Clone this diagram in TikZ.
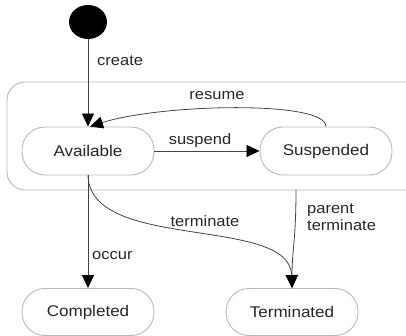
\documentclass[tikz,border=0pt]{standalone}
\usepackage{fontspec}
\setmainfont[FakeStretch=1.1]{Liberation Sans}
\usetikzlibrary{arrows.meta,shapes.geometric}
\definecolor{edgec}{HTML}{444444}
\definecolor{boxc}{HTML}{B8B8B8}
\tikzset{
  state/.style={draw=boxc, line width=0.9pt, rounded corners=23pt, minimum width=132pt, minimum height=48pt, inner sep=0pt, font=\fontsize{15.5}{18}\selectfont, text=black!85},
  trans/.style={draw=edgec, line width=0.8pt, -{Triangle[length=13pt,width=12pt,fill=black,color=black]}},
  lbl/.style={font=\fontsize{15}{17}\selectfont, text=black!85, inner sep=0pt},
}
\begin{document}
\begin{tikzpicture}[x=1pt,y=-1pt]
\useasboundingbox (0,0) rectangle (406,336);
% container
\draw[boxc, line width=0.9pt, rounded corners=18pt] (7,82) rectangle (425,190);
\node[coordinate] (cbot) at (296,190) {};
% initial
\node[fill=black, ellipse, minimum width=38pt, minimum height=34pt, inner sep=0pt] (init) at (88,22) {};
\node[state] (avail) at (88,151) {Available};
\node[state] (susp) at (326,151) {Suspended};
\node[state, minimum height=47pt] (comp) at (88,312) {Completed};
\node[state, minimum height=47pt] (term) at (292,312) {Terminated};
% transitions
\draw[trans] (init) -- (avail.north);
\node[lbl, anchor=west] at (97,61) {create};
\draw[trans] (avail.east) -- (susp.west);
\node[lbl] at (200,141) {suspend};
\draw[trans] (susp.north) .. controls (326,100) and (160,104) .. ([xshift=2pt]avail.north);
\node[lbl] at (217,96) {resume};
\draw[trans] (avail.south) -- (comp.north);
\node[lbl, anchor=west] at (92,256) {occur};
\draw[trans] (avail.south) .. controls (90,252) and (290,215) .. (term.north);
\node[lbl] at (205,221) {terminate};
\draw[trans] (cbot) .. controls (296,240) and (292,250) .. (term.north);
\node[lbl, anchor=north west, align=left, font=\fontsize{15}{17}\selectfont] at (307,204) {parent\\terminate};
\end{tikzpicture}
\end{document}
